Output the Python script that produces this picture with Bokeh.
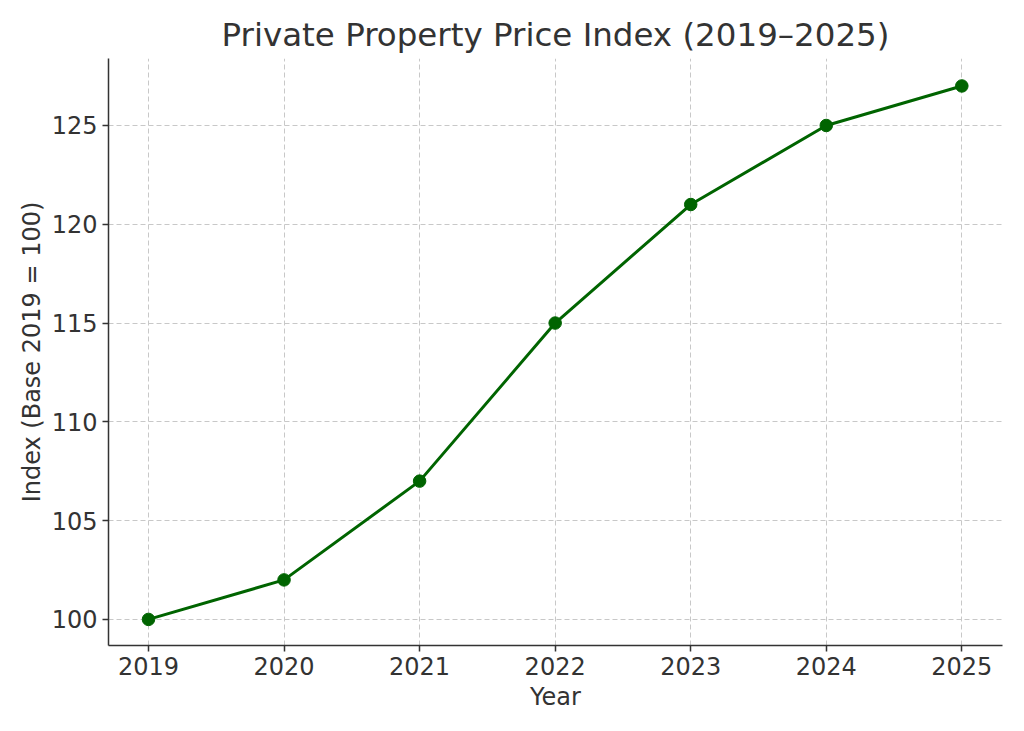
from bokeh.embed import file_html
from bokeh.models import FixedTicker, Range1d
from bokeh.plotting import figure
from bokeh.resources import INLINE

years = [2019, 2020, 2021, 2022, 2023, 2024, 2025]
index_values = [100, 102, 107, 115, 121, 125, 127]
y_ticks = [100, 105, 110, 115, 120, 125]

font = "DejaVu Sans"
text_col = "#333333"
green = "#006400"

p = figure(width=1016, height=723,
           output_backend="svg", toolbar_location=None,
           title="Private Property Price Index (2019\u20132025)",
           x_axis_label="Year", y_axis_label="Index (Base 2019 = 100)",
           x_range=Range1d(2018.705, 2025.30), y_range=Range1d(98.68, 128.39),
           min_border_left=108, min_border_right=14,
           min_border_top=58, min_border_bottom=78)

p.line(years, index_values, line_width=3, color=green)
p.scatter(years, index_values, size=12.5, color=green)

p.title.text_font = font
p.title.text_font_size = "32.5px"
p.title.text_font_style = "normal"
p.title.text_color = text_col
p.title.align = "center"

p.xaxis.ticker = FixedTicker(ticks=years)
p.yaxis.ticker = FixedTicker(ticks=y_ticks)
for ax in (p.xaxis[0], p.yaxis[0]):
    ax.axis_label_text_font = font
    ax.axis_label_text_font_size = "24px"
    ax.axis_label_text_font_style = "normal"
    ax.axis_label_text_color = text_col
    ax.major_label_text_font = font
    ax.major_label_text_font_size = "24px"
    ax.major_label_text_color = text_col
    ax.axis_line_color = text_col
    ax.axis_line_width = 1.5
    ax.major_tick_line_color = text_col
    ax.major_tick_line_width = 1.5
    ax.major_tick_out = 6
    ax.major_tick_in = 0
    ax.minor_tick_line_color = None
p.yaxis.axis_label_standoff = 3

p.grid.grid_line_color = "#c8c8c8"
p.grid.grid_line_dash = "5 3"
p.grid.grid_line_width = 1
p.outline_line_color = None
p.background_fill_color = "white"
p.border_fill_color = "white"

open("out.html", "w").write(file_html(p, INLINE))
